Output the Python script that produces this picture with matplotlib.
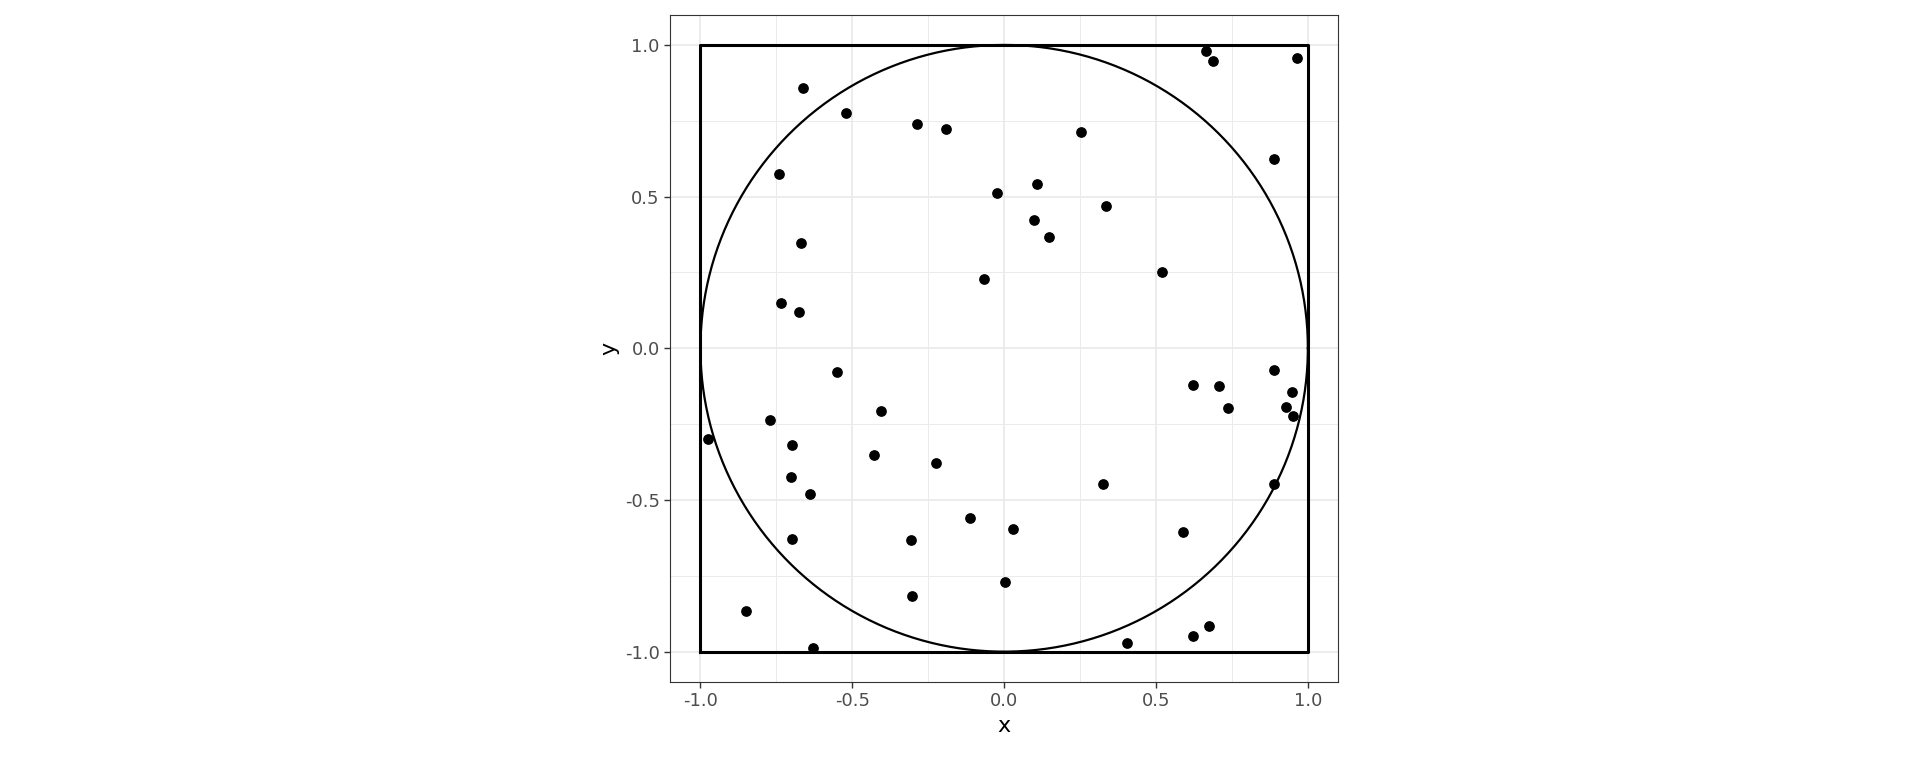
import numpy as np
import matplotlib.pyplot as plt

# point coordinates
xs = [0.666, 0.686, 0.964, -0.662, -0.521, -0.288, -0.191, 0.252, 0.887, -0.742,
      0.107, -0.022, 0.336, 0.099, 0.147, -0.670, 0.521, -0.066, -0.734, -0.674,
      -0.549, 0.887, 0.622, 0.706, 0.948, 0.928, 0.738, 0.952, -0.404, -0.770,
      -0.976, -0.698, -0.428, -0.223, -0.702, -0.638, 0.324, 0.887, -0.111, 0.030,
      0.590, -0.308, -0.698, 0.002, -0.304, -0.851, 0.674, 0.622, 0.405, -0.630]
ys = [0.980, 0.948, 0.956, 0.859, 0.774, 0.738, 0.722, 0.714, 0.625, 0.573,
      0.540, 0.512, 0.468, 0.423, 0.367, 0.347, 0.250, 0.230, 0.149, 0.121,
      -0.077, -0.073, -0.121, -0.125, -0.145, -0.194, -0.198, -0.222, -0.206, -0.238,
      -0.298, -0.319, -0.351, -0.379, -0.423, -0.480, -0.448, -0.448, -0.560, -0.597,
      -0.605, -0.633, -0.629, -0.770, -0.815, -0.867, -0.915, -0.948, -0.972, -0.988]
ticks = [-1.0, -0.5, 0.0, 0.5, 1.0]
tick_labels = ["-1.0", "-0.5", "0.0", "0.5", "1.0"]

fig = plt.figure(figsize=(19.2, 7.68), dpi=100)
ax = fig.add_axes([0.349, 0.112, 0.348, 0.869])
ax.set_xlim(-1.1, 1.1)
ax.set_ylim(-1.1, 1.1)

minor = [-0.75, -0.25, 0.25, 0.75]
for v in ticks:
    ax.axvline(v, color="#EBEBEB", lw=1.3, zorder=0)
    ax.axhline(v, color="#EBEBEB", lw=1.3, zorder=0)
for v in minor:
    ax.axvline(v, color="#EBEBEB", lw=0.7, zorder=0)
    ax.axhline(v, color="#EBEBEB", lw=0.7, zorder=0)

ax.plot([-1, 1, 1, -1, -1], [-1, -1, 1, 1, -1], color="black", lw=2.2)
t = np.linspace(0, 2 * np.pi, 400)
ax.plot(np.cos(t), np.sin(t), color="black", lw=1.6)
ax.scatter(xs, ys, s=45, color="black", zorder=3)

ax.set_xticks(ticks)
ax.set_xticklabels(tick_labels)
ax.set_yticks(ticks)
ax.set_yticklabels(tick_labels)
ax.tick_params(labelsize=13, colors="#4D4D4D", length=4, width=1, color="#333333")
for s in ax.spines.values():
    s.set_color("#333333")
    s.set_linewidth(0.8)
ax.set_xlabel("x", fontsize=16)
ax.set_ylabel("y", fontsize=16)

fig.savefig("out.png")
